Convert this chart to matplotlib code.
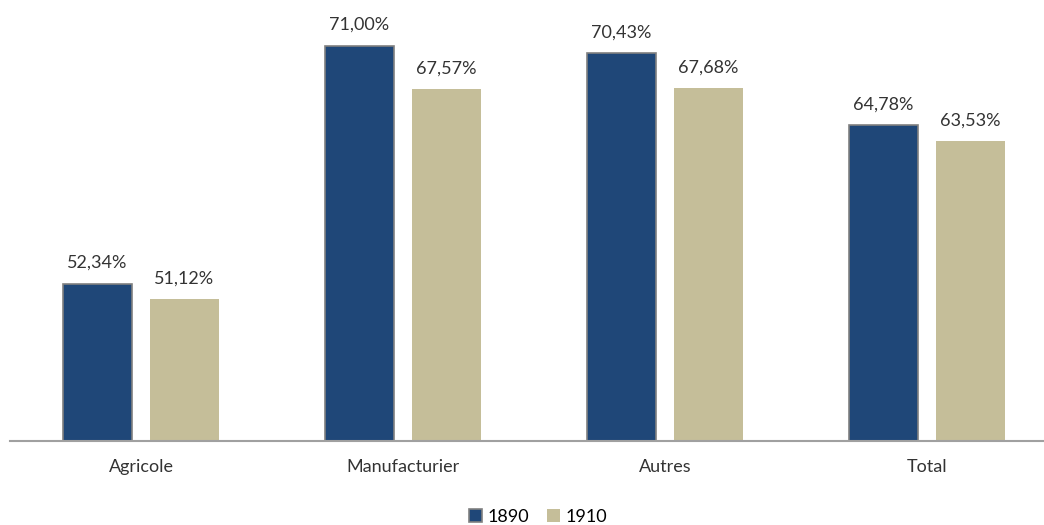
import matplotlib
matplotlib.use('Agg')
import matplotlib.pyplot as plt
import numpy as np

plt.rcParams['font.family'] = ['Lato', 'DejaVu Sans']

categories = ['Agricole', 'Manufacturier', 'Autres', 'Total']
values_1890 = [52.34, 71.00, 70.43, 64.78]
values_1910 = [51.12, 67.57, 67.68, 63.53]

fig = plt.figure(figsize=(10.44, 5.25), dpi=100)
ax = fig.add_axes([10 / 1044, 84 / 525, 1048 / 1044, 421 / 525])

x = np.arange(len(categories))
w = 0.267
off = 0.166
b1 = ax.bar(x - off, values_1890, w, color='#1F4778', edgecolor='#808080', linewidth=1.2, label='1890')
b2 = ax.bar(x + off, values_1910, w, color='#C5BE99', label='1910')

fmt = lambda v: '{:.2f}%'.format(v).replace('.', ',')
for bars, vals in ((b1, values_1890), (b2, values_1910)):
    for r, v in zip(bars, vals):
        ax.annotate(fmt(v), (r.get_x() + r.get_width() / 2, v), xytext=(0, 9),
                    textcoords='offset points', ha='center', va='bottom',
                    fontsize=13, color='#333333')

ax.set_xlim(-0.5, 3.5)
ax.set_ylim(40, 73)
ax.set_xticks(x)
ax.set_xticklabels(categories, fontsize=13, color='#333333')
ax.tick_params(axis='x', length=0, pad=13)
ax.set_yticks([])
for s in ('top', 'right', 'left'):
    ax.spines[s].set_visible(False)
ax.spines['bottom'].set_color('#A0A0A0')
ax.spines['bottom'].set_linewidth(1.5)

fig.legend(handles=[b1, b2], loc='center', bbox_to_anchor=(538 / 1044, 8 / 525),
           ncol=2, frameon=False, fontsize=13, handlelength=0.7, handleheight=0.7,
           handletextpad=0.3, columnspacing=1.0)

fig.savefig('out.png', dpi=100)
